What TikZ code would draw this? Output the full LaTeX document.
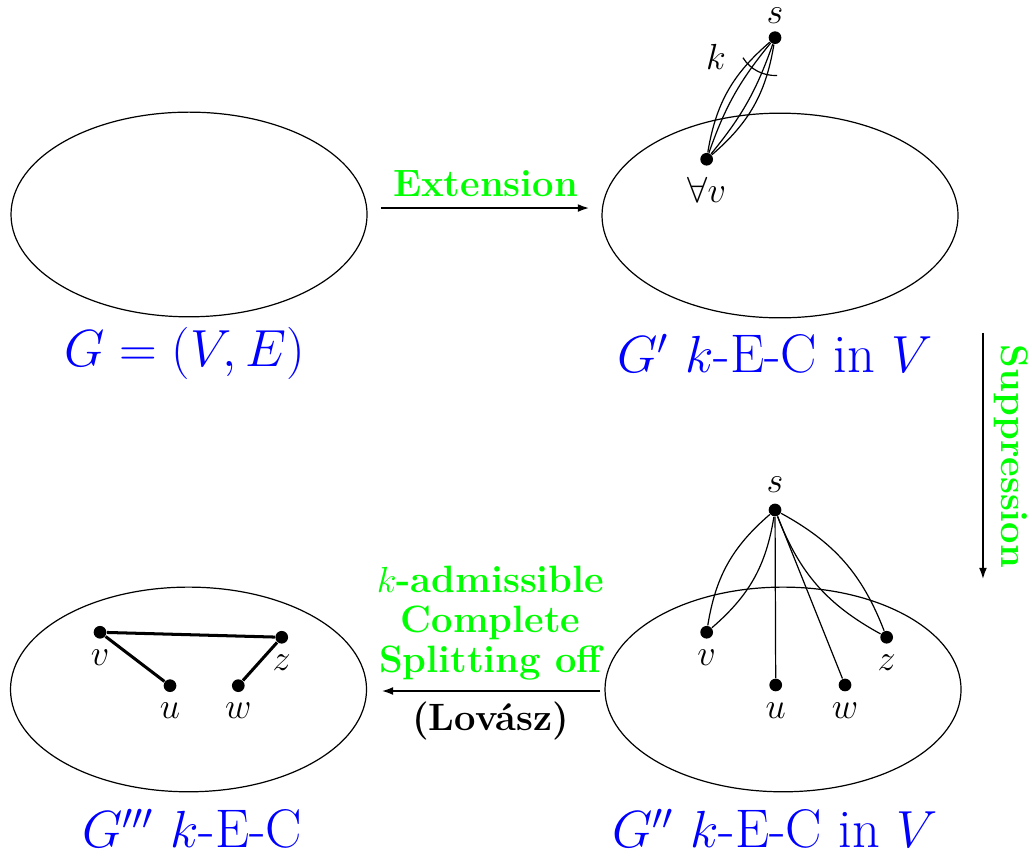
\documentclass[tikz,border=0pt]{standalone}
\usepackage{amsmath,amssymb}
\usetikzlibrary{positioning,arrows.meta,shapes.geometric}

\begin{document}
\begin{tikzpicture}[
    font=\fontsize{12.6}{13.2}\selectfont,
    region/.style={draw, ellipse, inner sep=0pt,
                   minimum width=4.14cm, minimum height=2.38cm},
    vtx/.style={circle, fill, inner sep=0pt, minimum size=4.2pt},
    biglab/.style={font=\fontsize{18}{22}\selectfont, text=blue, anchor=base},
    oplab/.style={font=\fontsize{12.6}{13.2}\selectfont\bfseries, text=green},
    arr/.style={-{Latex[length=4pt,width=2.6pt]}, thick},
    splitedge/.style={line width=1pt}
  ]
    \useasboundingbox (0,0) rectangle (12.0,-9.965);
    \node[region] (R1) at (2.198,-2.494) {};
    \node[region] (R2) at (9.070,-2.506) {};
    \node[region] (R3) at (2.192,-8.017) {};
    \node[region] (R4) at (9.105,-8.017) {};
    % G' : k parallel edges from s to every v
    \node[vtx, label={[inner sep=1pt, label distance=1.2pt]above:$s$}] (s1) at (9.012,-0.438) {};
    \node[vtx, label=below:$\forall v$] (v1) at (8.217,-1.852) {};
    \foreach \b in {10,20} {
      \draw (v1) to[bend left=\b] (s1);
      \draw (v1) to[bend right=\b] (s1);
    }
    \draw ([shift={(212:0.44)}]s1.center) arc[start angle=212, end angle=273, radius=0.44];
    \node (k) at (8.326,-0.663) {$k$};
    % G''
    \node[vtx, label=above:$s$] (s2) at (9.012,-5.930) {};
    \node[vtx, label=below:$v$] (v2) at (8.217,-7.352) {};
    \node[vtx, label=below:$u$] (u2) at (9.020,-7.965) {};
    \node[vtx, label=below:$w$] (w2) at (9.826,-7.965) {};
    \node[vtx, label=below:$z$] (z2) at (10.310,-7.410) {};
    \draw (s2) to[bend right=20] (v2);
    \draw (s2) to[bend left=20] (v2);
    \draw (s2) -- (u2);
    \draw (s2) -- (w2);
    \draw (s2) to[bend right=20] (z2);
    \draw (s2) to[bend left=20] (z2);
    % G'''
    \node[vtx, label=below:$v$] (v3) at (1.163,-7.352) {};
    \node[vtx, label=below:$u$] (u3) at (1.977,-7.973) {};
    \node[vtx, label=below:$w$] (w3) at (2.771,-7.973) {};
    \node[vtx, label=below:$z$] (z3) at (3.276,-7.410) {};
    \draw[splitedge] (v3) -- (z3);
    \draw[splitedge] (v3) -- (u3);
    \draw[splitedge] (z3) -- (w3);
    % captions
    \node[biglab] (lG) at (2.151,-4.267) {$G=(V,E)$};
    \node[biglab] (lG1) at (9.012,-4.337) {$G'$ $k$-E-C in $V$};
    \node[biglab] (lG2) at (9.012,-9.860) {$G''$ $k$-E-C in $V$};
    \node[biglab] (lG3) at (2.233,-9.860) {$G'''$ $k$-E-C};
    % steps
    \coordinate (e1) at (4.430,-2.419);
    \coordinate (e2) at (6.860,-2.419);
    \draw[arr] (e1) -- node[above, oplab] (lext) {Extension} (e2);
    \coordinate (p1) at (11.430,-3.872);
    \coordinate (p2) at (11.430,-6.744);
    \draw[arr] (p1) -- node[anchor=south, rotate=-90, oplab] (lsup) {Suppression} (p2);
    \coordinate (c1) at (6.977,-8.035);
    \coordinate (c2) at (4.430,-8.035);
    \draw[arr] (c1)
      -- node[above, oplab, align=center] (lspl) {$k$-admissible\\Complete\\Splitting off}
         node[below, font=\fontsize{12.6}{13.2}\selectfont\bfseries] (llov) {(Lov\'asz)} (c2);
\end{tikzpicture}
\end{document}
